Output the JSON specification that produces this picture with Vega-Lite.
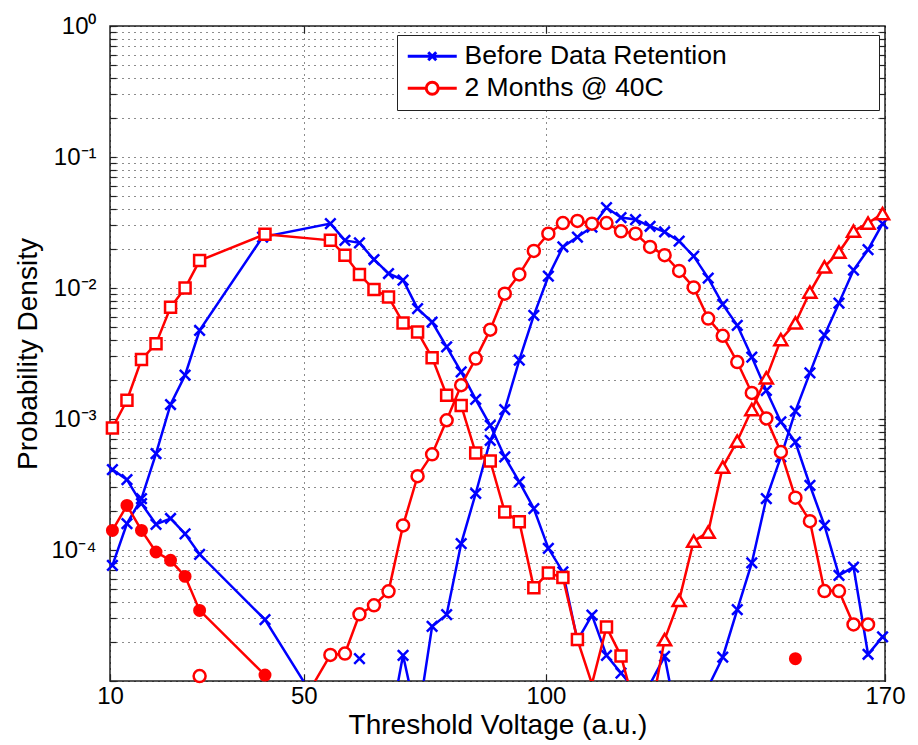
{
  "$schema": "https://vega.github.io/schema/vega-lite/v6.json",
  "width": 775,
  "height": 655,
  "autosize": "none",
  "padding": {"left": 110, "top": 26, "right": 33, "bottom": 64},
  "background": "white",
  "config": {
    "view": {"stroke": "#222", "strokeWidth": 1.5},
    "font": "Liberation Sans"
  },
  "data": {
    "values": [
      {"series": "Before Data Retention", "state": "ER", "x": 10.5, "y": 4.11e-4},
      {"series": "Before Data Retention", "state": "ER", "x": 13.5, "y": 3.44e-4},
      {"series": "Before Data Retention", "state": "ER", "x": 16.5, "y": 2.26e-4},
      {"series": "Before Data Retention", "state": "ER", "x": 19.5, "y": 1.57e-4},
      {"series": "Before Data Retention", "state": "ER", "x": 22.5, "y": 1.74e-4},
      {"series": "Before Data Retention", "state": "ER", "x": 25.5, "y": 1.33e-4},
      {"series": "Before Data Retention", "state": "ER", "x": 28.5, "y": 9.27e-5},
      {"series": "Before Data Retention", "state": "ER", "x": 42, "y": 2.94e-5},
      {"series": "Before Data Retention", "state": "ER", "x": 55, "y": 5e-6},

      {"series": "Before Data Retention", "state": "P1", "x": 10.5, "y": 7.64e-5},
      {"series": "Before Data Retention", "state": "P1", "x": 13.5, "y": 1.59e-4},
      {"series": "Before Data Retention", "state": "P1", "x": 16.5, "y": 2.47e-4},
      {"series": "Before Data Retention", "state": "P1", "x": 19.5, "y": 5.44e-4},
      {"series": "Before Data Retention", "state": "P1", "x": 22.5, "y": 1.29e-3},
      {"series": "Before Data Retention", "state": "P1", "x": 25.5, "y": 2.16e-3},
      {"series": "Before Data Retention", "state": "P1", "x": 28.5, "y": 4.75e-3},
      {"series": "Before Data Retention", "state": "P1", "x": 41.5, "y": 2.45e-2},
      {"series": "Before Data Retention", "state": "P1", "x": 55.5, "y": 3.10e-2},
      {"series": "Before Data Retention", "state": "P1", "x": 58.5, "y": 2.31e-2},
      {"series": "Before Data Retention", "state": "P1", "x": 61.5, "y": 2.21e-2},
      {"series": "Before Data Retention", "state": "P1", "x": 64.5, "y": 1.65e-2},
      {"series": "Before Data Retention", "state": "P1", "x": 67.5, "y": 1.29e-2},
      {"series": "Before Data Retention", "state": "P1", "x": 70.5, "y": 1.15e-2},
      {"series": "Before Data Retention", "state": "P1", "x": 73.5, "y": 6.96e-3},
      {"series": "Before Data Retention", "state": "P1", "x": 76.5, "y": 5.50e-3},
      {"series": "Before Data Retention", "state": "P1", "x": 79.5, "y": 3.55e-3},
      {"series": "Before Data Retention", "state": "P1", "x": 82.5, "y": 2.29e-3},
      {"series": "Before Data Retention", "state": "P1", "x": 85.5, "y": 1.41e-3},
      {"series": "Before Data Retention", "state": "P1", "x": 88.5, "y": 8.95e-4},
      {"series": "Before Data Retention", "state": "P1", "x": 91.5, "y": 5.13e-4},
      {"series": "Before Data Retention", "state": "P1", "x": 94.5, "y": 3.31e-4},
      {"series": "Before Data Retention", "state": "P1", "x": 97.5, "y": 2.07e-4},
      {"series": "Before Data Retention", "state": "P1", "x": 100.5, "y": 1.03e-4},
      {"series": "Before Data Retention", "state": "P1", "x": 103.5, "y": 6.8e-5},
      {"series": "Before Data Retention", "state": "P1", "x": 106.5, "y": 2.04e-5},
      {"series": "Before Data Retention", "state": "P1", "x": 109.5, "y": 3.18e-5},
      {"series": "Before Data Retention", "state": "P1", "x": 112.5, "y": 1.57e-5},
      {"series": "Before Data Retention", "state": "P1", "x": 115.5, "y": 1.15e-5},
      {"series": "Before Data Retention", "state": "P1", "x": 118.5, "y": 8.4e-6},

      {"series": "Before Data Retention", "state": "P2", "x": 61.5, "y": 1.48e-5},
      {"series": "Before Data Retention", "state": "P2", "x": 64.5, "y": null},
      {"series": "Before Data Retention", "state": "P2", "x": 67.5, "y": 4e-6},
      {"series": "Before Data Retention", "state": "P2", "x": 70.5, "y": 1.57e-5},
      {"series": "Before Data Retention", "state": "P2", "x": 73.5, "y": 4.9e-6},
      {"series": "Before Data Retention", "state": "P2", "x": 76.5, "y": 2.61e-5},
      {"series": "Before Data Retention", "state": "P2", "x": 79.5, "y": 3.21e-5},
      {"series": "Before Data Retention", "state": "P2", "x": 82.5, "y": 1.12e-4},
      {"series": "Before Data Retention", "state": "P2", "x": 85.5, "y": 2.70e-4},
      {"series": "Before Data Retention", "state": "P2", "x": 88.5, "y": 6.87e-4},
      {"series": "Before Data Retention", "state": "P2", "x": 91.5, "y": 1.18e-3},
      {"series": "Before Data Retention", "state": "P2", "x": 94.5, "y": 2.81e-3},
      {"series": "Before Data Retention", "state": "P2", "x": 97.5, "y": 6.19e-3},
      {"series": "Before Data Retention", "state": "P2", "x": 100.5, "y": 1.23e-2},
      {"series": "Before Data Retention", "state": "P2", "x": 103.5, "y": 2.06e-2},
      {"series": "Before Data Retention", "state": "P2", "x": 106.5, "y": 2.45e-2},
      {"series": "Before Data Retention", "state": "P2", "x": 109.5, "y": 2.92e-2},
      {"series": "Before Data Retention", "state": "P2", "x": 112.5, "y": 4.11e-2},
      {"series": "Before Data Retention", "state": "P2", "x": 115.5, "y": 3.45e-2},
      {"series": "Before Data Retention", "state": "P2", "x": 118.5, "y": 3.33e-2},
      {"series": "Before Data Retention", "state": "P2", "x": 121.5, "y": 2.96e-2},
      {"series": "Before Data Retention", "state": "P2", "x": 124.5, "y": 2.68e-2},
      {"series": "Before Data Retention", "state": "P2", "x": 127.5, "y": 2.28e-2},
      {"series": "Before Data Retention", "state": "P2", "x": 130.5, "y": 1.75e-2},
      {"series": "Before Data Retention", "state": "P2", "x": 133.5, "y": 1.19e-2},
      {"series": "Before Data Retention", "state": "P2", "x": 136.5, "y": 7.5e-3},
      {"series": "Before Data Retention", "state": "P2", "x": 139.5, "y": 5.19e-3},
      {"series": "Before Data Retention", "state": "P2", "x": 142.5, "y": 2.97e-3},
      {"series": "Before Data Retention", "state": "P2", "x": 145.5, "y": 1.65e-3},
      {"series": "Before Data Retention", "state": "P2", "x": 148.5, "y": 9.5e-4},
      {"series": "Before Data Retention", "state": "P2", "x": 151.5, "y": 6.67e-4},
      {"series": "Before Data Retention", "state": "P2", "x": 154.5, "y": 3.12e-4},
      {"series": "Before Data Retention", "state": "P2", "x": 157.5, "y": 1.54e-4},
      {"series": "Before Data Retention", "state": "P2", "x": 160.5, "y": 6.41e-5},
      {"series": "Before Data Retention", "state": "P2", "x": 163.5, "y": 7.41e-5},
      {"series": "Before Data Retention", "state": "P2", "x": 166.5, "y": 1.60e-5},
      {"series": "Before Data Retention", "state": "P2", "x": 169.5, "y": 2.17e-5},

      {"series": "Before Data Retention", "state": "P3", "x": 121.5, "y": 9.5e-6},
      {"series": "Before Data Retention", "state": "P3", "x": 124.5, "y": 1.54e-5},
      {"series": "Before Data Retention", "state": "P3", "x": 127.5, "y": 4.2e-6},
      {"series": "Before Data Retention", "state": "P3", "x": 130.5, "y": 3e-6},
      {"series": "Before Data Retention", "state": "P3", "x": 133.5, "y": 9e-6},
      {"series": "Before Data Retention", "state": "P3", "x": 136.5, "y": 1.52e-5},
      {"series": "Before Data Retention", "state": "P3", "x": 139.5, "y": 3.5e-5},
      {"series": "Before Data Retention", "state": "P3", "x": 142.5, "y": 7.96e-5},
      {"series": "Before Data Retention", "state": "P3", "x": 145.5, "y": 2.47e-4},
      {"series": "Before Data Retention", "state": "P3", "x": 148.5, "y": 5.13e-4},
      {"series": "Before Data Retention", "state": "P3", "x": 151.5, "y": 1.15e-3},
      {"series": "Before Data Retention", "state": "P3", "x": 154.5, "y": 2.25e-3},
      {"series": "Before Data Retention", "state": "P3", "x": 157.5, "y": 4.36e-3},
      {"series": "Before Data Retention", "state": "P3", "x": 160.5, "y": 7.68e-3},
      {"series": "Before Data Retention", "state": "P3", "x": 163.5, "y": 1.37e-2},
      {"series": "Before Data Retention", "state": "P3", "x": 166.5, "y": 1.96e-2},
      {"series": "Before Data Retention", "state": "P3", "x": 169.5, "y": 3.10e-2},

      {"series": "2 Months @ 40C", "state": "ER", "x": 10.5, "y": 1.41e-4},
      {"series": "2 Months @ 40C", "state": "ER", "x": 13.5, "y": 2.19e-4},
      {"series": "2 Months @ 40C", "state": "ER", "x": 16.5, "y": 1.41e-4},
      {"series": "2 Months @ 40C", "state": "ER", "x": 19.5, "y": 9.66e-5},
      {"series": "2 Months @ 40C", "state": "ER", "x": 22.5, "y": 8.34e-5},
      {"series": "2 Months @ 40C", "state": "ER", "x": 25.5, "y": 6.29e-5},
      {"series": "2 Months @ 40C", "state": "ER", "x": 28.5, "y": 3.46e-5},
      {"series": "2 Months @ 40C", "state": "ER", "x": 42, "y": 1.11e-5},
      {"series": "2 Months @ 40C", "state": "ER", "x": 148.5, "y": null},
      {"series": "2 Months @ 40C", "state": "ER", "x": 151.5, "y": 1.48e-5},

      {"series": "2 Months @ 40C", "state": "P1", "x": 10.5, "y": 8.54e-4},
      {"series": "2 Months @ 40C", "state": "P1", "x": 13.5, "y": 1.39e-3},
      {"series": "2 Months @ 40C", "state": "P1", "x": 16.5, "y": 2.84e-3},
      {"series": "2 Months @ 40C", "state": "P1", "x": 19.5, "y": 3.76e-3},
      {"series": "2 Months @ 40C", "state": "P1", "x": 22.5, "y": 7.13e-3},
      {"series": "2 Months @ 40C", "state": "P1", "x": 25.5, "y": 1.0e-2},
      {"series": "2 Months @ 40C", "state": "P1", "x": 28.5, "y": 1.62e-2},
      {"series": "2 Months @ 40C", "state": "P1", "x": 42, "y": 2.57e-2},
      {"series": "2 Months @ 40C", "state": "P1", "x": 55.5, "y": 2.31e-2},
      {"series": "2 Months @ 40C", "state": "P1", "x": 58.5, "y": 1.78e-2},
      {"series": "2 Months @ 40C", "state": "P1", "x": 61.5, "y": 1.27e-2},
      {"series": "2 Months @ 40C", "state": "P1", "x": 64.5, "y": 9.73e-3},
      {"series": "2 Months @ 40C", "state": "P1", "x": 67.5, "y": 8.54e-3},
      {"series": "2 Months @ 40C", "state": "P1", "x": 70.5, "y": 5.41e-3},
      {"series": "2 Months @ 40C", "state": "P1", "x": 73.5, "y": 4.62e-3},
      {"series": "2 Months @ 40C", "state": "P1", "x": 76.5, "y": 2.94e-3},
      {"series": "2 Months @ 40C", "state": "P1", "x": 79.5, "y": 1.52e-3},
      {"series": "2 Months @ 40C", "state": "P1", "x": 82.5, "y": 1.27e-3},
      {"series": "2 Months @ 40C", "state": "P1", "x": 85.5, "y": 5.50e-4},
      {"series": "2 Months @ 40C", "state": "P1", "x": 88.5, "y": 4.78e-4},
      {"series": "2 Months @ 40C", "state": "P1", "x": 91.5, "y": 1.95e-4},
      {"series": "2 Months @ 40C", "state": "P1", "x": 94.5, "y": 1.64e-4},
      {"series": "2 Months @ 40C", "state": "P1", "x": 97.5, "y": 5.16e-5},
      {"series": "2 Months @ 40C", "state": "P1", "x": 100.5, "y": 6.68e-5},
      {"series": "2 Months @ 40C", "state": "P1", "x": 103.5, "y": 6.16e-5},
      {"series": "2 Months @ 40C", "state": "P1", "x": 106.5, "y": 2.07e-5},
      {"series": "2 Months @ 40C", "state": "P1", "x": 109.5, "y": 9.5e-6},
      {"series": "2 Months @ 40C", "state": "P1", "x": 112.5, "y": 2.58e-5},
      {"series": "2 Months @ 40C", "state": "P1", "x": 115.5, "y": 1.55e-5},
      {"series": "2 Months @ 40C", "state": "P1", "x": 118.5, "y": 6e-6},

      {"series": "2 Months @ 40C", "state": "P2", "x": 28.5, "y": 1.09e-5},
      {"series": "2 Months @ 40C", "state": "P2", "x": 31.5, "y": null},
      {"series": "2 Months @ 40C", "state": "P2", "x": 52, "y": 9.5e-6},
      {"series": "2 Months @ 40C", "state": "P2", "x": 55.5, "y": 1.58e-5},
      {"series": "2 Months @ 40C", "state": "P2", "x": 58.5, "y": 1.62e-5},
      {"series": "2 Months @ 40C", "state": "P2", "x": 61.5, "y": 3.23e-5},
      {"series": "2 Months @ 40C", "state": "P2", "x": 64.5, "y": 3.78e-5},
      {"series": "2 Months @ 40C", "state": "P2", "x": 67.5, "y": 4.84e-5},
      {"series": "2 Months @ 40C", "state": "P2", "x": 70.5, "y": 1.54e-4},
      {"series": "2 Months @ 40C", "state": "P2", "x": 73.5, "y": 3.66e-4},
      {"series": "2 Months @ 40C", "state": "P2", "x": 76.5, "y": 5.38e-4},
      {"series": "2 Months @ 40C", "state": "P2", "x": 79.5, "y": 9.78e-4},
      {"series": "2 Months @ 40C", "state": "P2", "x": 82.5, "y": 1.81e-3},
      {"series": "2 Months @ 40C", "state": "P2", "x": 85.5, "y": 2.89e-3},
      {"series": "2 Months @ 40C", "state": "P2", "x": 88.5, "y": 4.81e-3},
      {"series": "2 Months @ 40C", "state": "P2", "x": 91.5, "y": 9.05e-3},
      {"series": "2 Months @ 40C", "state": "P2", "x": 94.5, "y": 1.27e-2},
      {"series": "2 Months @ 40C", "state": "P2", "x": 97.5, "y": 1.92e-2},
      {"series": "2 Months @ 40C", "state": "P2", "x": 100.5, "y": 2.60e-2},
      {"series": "2 Months @ 40C", "state": "P2", "x": 103.5, "y": 3.13e-2},
      {"series": "2 Months @ 40C", "state": "P2", "x": 106.5, "y": 3.25e-2},
      {"series": "2 Months @ 40C", "state": "P2", "x": 109.5, "y": 3.10e-2},
      {"series": "2 Months @ 40C", "state": "P2", "x": 112.5, "y": 3.13e-2},
      {"series": "2 Months @ 40C", "state": "P2", "x": 115.5, "y": 2.71e-2},
      {"series": "2 Months @ 40C", "state": "P2", "x": 118.5, "y": 2.60e-2},
      {"series": "2 Months @ 40C", "state": "P2", "x": 121.5, "y": 2.06e-2},
      {"series": "2 Months @ 40C", "state": "P2", "x": 124.5, "y": 1.78e-2},
      {"series": "2 Months @ 40C", "state": "P2", "x": 127.5, "y": 1.35e-2},
      {"series": "2 Months @ 40C", "state": "P2", "x": 130.5, "y": 1.01e-2},
      {"series": "2 Months @ 40C", "state": "P2", "x": 133.5, "y": 5.84e-3},
      {"series": "2 Months @ 40C", "state": "P2", "x": 136.5, "y": 4.32e-3},
      {"series": "2 Months @ 40C", "state": "P2", "x": 139.5, "y": 2.72e-3},
      {"series": "2 Months @ 40C", "state": "P2", "x": 142.5, "y": 1.58e-3},
      {"series": "2 Months @ 40C", "state": "P2", "x": 145.5, "y": 1.01e-3},
      {"series": "2 Months @ 40C", "state": "P2", "x": 148.5, "y": 5.60e-4},
      {"series": "2 Months @ 40C", "state": "P2", "x": 151.5, "y": 2.51e-4},
      {"series": "2 Months @ 40C", "state": "P2", "x": 154.5, "y": 1.66e-4},
      {"series": "2 Months @ 40C", "state": "P2", "x": 157.5, "y": 4.86e-5},
      {"series": "2 Months @ 40C", "state": "P2", "x": 160.5, "y": 4.86e-5},
      {"series": "2 Months @ 40C", "state": "P2", "x": 163.5, "y": 2.70e-5},
      {"series": "2 Months @ 40C", "state": "P2", "x": 166.5, "y": 2.70e-5},

      {"series": "2 Months @ 40C", "state": "P3", "x": 121.5, "y": 5.3e-6},
      {"series": "2 Months @ 40C", "state": "P3", "x": 124.5, "y": 2.07e-5},
      {"series": "2 Months @ 40C", "state": "P3", "x": 127.5, "y": 4.13e-5},
      {"series": "2 Months @ 40C", "state": "P3", "x": 130.5, "y": 1.17e-4},
      {"series": "2 Months @ 40C", "state": "P3", "x": 133.5, "y": 1.37e-4},
      {"series": "2 Months @ 40C", "state": "P3", "x": 136.5, "y": 4.30e-4},
      {"series": "2 Months @ 40C", "state": "P3", "x": 139.5, "y": 6.79e-4},
      {"series": "2 Months @ 40C", "state": "P3", "x": 142.5, "y": 1.18e-3},
      {"series": "2 Months @ 40C", "state": "P3", "x": 145.5, "y": 2.06e-3},
      {"series": "2 Months @ 40C", "state": "P3", "x": 148.5, "y": 4.04e-3},
      {"series": "2 Months @ 40C", "state": "P3", "x": 151.5, "y": 5.41e-3},
      {"series": "2 Months @ 40C", "state": "P3", "x": 154.5, "y": 9.31e-3},
      {"series": "2 Months @ 40C", "state": "P3", "x": 157.5, "y": 1.45e-2},
      {"series": "2 Months @ 40C", "state": "P3", "x": 160.5, "y": 1.88e-2},
      {"series": "2 Months @ 40C", "state": "P3", "x": 163.5, "y": 2.72e-2},
      {"series": "2 Months @ 40C", "state": "P3", "x": 166.5, "y": 3.13e-2},
      {"series": "2 Months @ 40C", "state": "P3", "x": 169.5, "y": 3.70e-2}
    ]
  },
  "resolve": {"axis": {"x": "independent", "y": "independent"}},
  "layer": [
    {
      "transform": [{"filter": "datum.series == 'Before Data Retention'"}],
      "mark": {"type": "line", "clip": true, "strokeWidth": 2.5, "invalid": "break-paths-filter-domains"},
      "encoding": {
        "x": {
          "field": "x", "type": "quantitative",
          "scale": {"domain": [10, 170], "nice": false, "zero": false},
          "axis": {
            "orient": "bottom",
            "values": [10, 50, 100, 170],
            "grid": true, "gridDash": [1, 5], "gridColor": "#000", "gridWidth": 1, "gridOpacity": 0.9,
            "domain": false,
            "tickSize": -7, "tickColor": "#222", "tickWidth": 1.2,
            "labelFont": "Liberation Sans", "labelFontSize": 24, "labelColor": "#000",
            "labelFlush": false, "labelOverlap": false, "labelPadding": 10,
            "title": "Threshold Voltage (a.u.)",
            "titleFont": "Liberation Sans", "titleFontSize": 28, "titleFontWeight": "normal", "titleColor": "#000",
            "titlePadding": 3
          }
        },
        "y": {
          "field": "y", "type": "quantitative",
          "scale": {"type": "log", "domain": [1e-5, 1], "nice": false},
          "axis": {
            "orient": "left",
            "values": [1e-5, 2e-5, 3e-5, 4e-5, 5e-5, 6e-5, 7e-5, 8e-5, 9e-5,
                       1e-4, 2e-4, 3e-4, 4e-4, 5e-4, 6e-4, 7e-4, 8e-4, 9e-4,
                       1e-3, 2e-3, 3e-3, 4e-3, 5e-3, 6e-3, 7e-3, 8e-3, 9e-3,
                       1e-2, 2e-2, 3e-2, 4e-2, 5e-2, 6e-2, 7e-2, 8e-2, 9e-2,
                       0.1, 0.2, 0.3, 0.4, 0.5, 0.6, 0.7, 0.8, 0.9, 1],
            "labelExpr": "datum.value == 1 ? '10⁰' : datum.value == 0.1 ? '10⁻¹' : datum.value == 0.01 ? '10⁻²' : datum.value == 0.001 ? '10⁻³' : datum.value == 0.0001 ? '10⁻⁴' : ''",
            "grid": true, "gridDash": [1, 5], "gridColor": "#000", "gridWidth": 1, "gridOpacity": 0.9,
            "domain": false,
            "tickSize": -6, "tickColor": "#222", "tickWidth": 1.2,
            "labelFont": "Liberation Sans", "labelFontSize": 24, "labelColor": "#000",
            "labelOverlap": false, "labelPadding": 20, "labelBaseline": "middle",
            "title": "Probability Density",
            "titleFont": "Liberation Sans", "titleFontSize": 28, "titleFontWeight": "normal", "titleColor": "#000",
            "titlePadding": 8
          }
        },
        "color": {
          "field": "series", "type": "nominal",
          "scale": {"domain": ["Before Data Retention", "2 Months @ 40C"], "range": ["#0000ff", "#ff0000"]},
          "legend": {
            "orient": "none", "legendX": 287, "legendY": 9, "title": null, "direction": "vertical",
            "strokeColor": "#222", "fillColor": "white", "padding": 8,
            "labelFont": "Liberation Sans", "labelFontSize": 26.5, "labelColor": "#000", "labelLimit": 900,
            "symbolSize": 400, "symbolStrokeWidth": 3, "symbolOffset": 14, "labelOffset": 19, "rowPadding": 5,
            "encode": {
              "symbols": {
                "update": {
                  "shape": {"signal": "datum.value == 'Before Data Retention' ? 'M-2.45,0H2.45M-0.4,-0.4L0.4,0.4M-0.4,0.4L0.4,-0.4M43.2,0' : 'M-2.45,0H-0.6M0.6,0H2.45M-0.6,0A0.6,0.6,0,1,1,0.6,0A0.6,0.6,0,1,1,-0.6,0M43.2,0'"},
                  "fill": {"value": "white"}
                }
              }
            }
          }
        },
        "detail": {"field": "state", "type": "nominal"}
      }
    },
    {
      "transform": [{"filter": "datum.series == 'Before Data Retention' && isValid(datum.y) && datum.y >= 1e-5"}],
      "mark": {"type": "point", "filled": false, "strokeWidth": 2.5, "opacity": 1, "shape": "M-1,-1L1,1M-1,1L1,-1", "size": 110, "stroke": "#0000ff"},
      "encoding": {
        "x": {
          "field": "x", "type": "quantitative",
          "scale": {"domain": [10, 170], "nice": false, "zero": false},
          "axis": {"orient": "top", "values": [50, 100], "grid": false, "domain": false, "labels": false, "title": null, "tickSize": -7, "tickColor": "#222", "tickWidth": 1.2}
        },
        "y": {
          "field": "y", "type": "quantitative",
          "scale": {"type": "log", "domain": [1e-5, 1], "nice": false},
          "axis": {
            "orient": "right",
            "values": [2e-5, 3e-5, 4e-5, 5e-5, 6e-5, 7e-5, 8e-5, 9e-5,
                       1e-4, 2e-4, 3e-4, 4e-4, 5e-4, 6e-4, 7e-4, 8e-4, 9e-4,
                       1e-3, 2e-3, 3e-3, 4e-3, 5e-3, 6e-3, 7e-3, 8e-3, 9e-3,
                       1e-2, 2e-2, 3e-2, 4e-2, 5e-2, 6e-2, 7e-2, 8e-2, 9e-2,
                       0.1, 0.2, 0.3, 0.4, 0.5, 0.6, 0.7, 0.8, 0.9],
            "grid": false, "domain": false, "labels": false, "title": null, "tickSize": -6, "tickColor": "#222", "tickWidth": 1.2
          }
        }
      }
    },
    {
      "transform": [{"filter": "datum.series == '2 Months @ 40C'"}],
      "mark": {"type": "line", "clip": true, "strokeWidth": 2.5, "invalid": "break-paths-filter-domains"},
      "encoding": {
        "x": {"field": "x", "type": "quantitative", "axis": null},
        "y": {"field": "y", "type": "quantitative", "axis": null},
        "color": {
          "field": "series", "type": "nominal",
          "scale": {"domain": ["Before Data Retention", "2 Months @ 40C"], "range": ["#0000ff", "#ff0000"]}
        },
        "detail": {"field": "state", "type": "nominal"}
      }
    },
    {
      "transform": [{"filter": "datum.series == '2 Months @ 40C' && isValid(datum.y) && datum.y >= 1e-5"}],
      "mark": {"type": "point", "strokeWidth": 2.5, "opacity": 1, "stroke": "#ff0000"},
      "encoding": {
        "x": {"field": "x", "type": "quantitative", "axis": null},
        "y": {"field": "y", "type": "quantitative", "axis": null},
        "shape": {
          "condition": [
            {"test": "datum.state == 'P1'", "value": "square"},
            {"test": "datum.state == 'P3'", "value": "triangle-up"}
          ],
          "value": "circle"
        },
        "fill": {"condition": {"test": "datum.state == 'ER'", "value": "#ff0000"}, "value": "white"},
        "size": {
          "condition": [
            {"test": "datum.state == 'ER'", "value": 110},
            {"test": "datum.state == 'P1'", "value": 121},
            {"test": "datum.state == 'P3'", "value": 170}
          ],
          "value": 144
        }
      }
    }
  ]
}
